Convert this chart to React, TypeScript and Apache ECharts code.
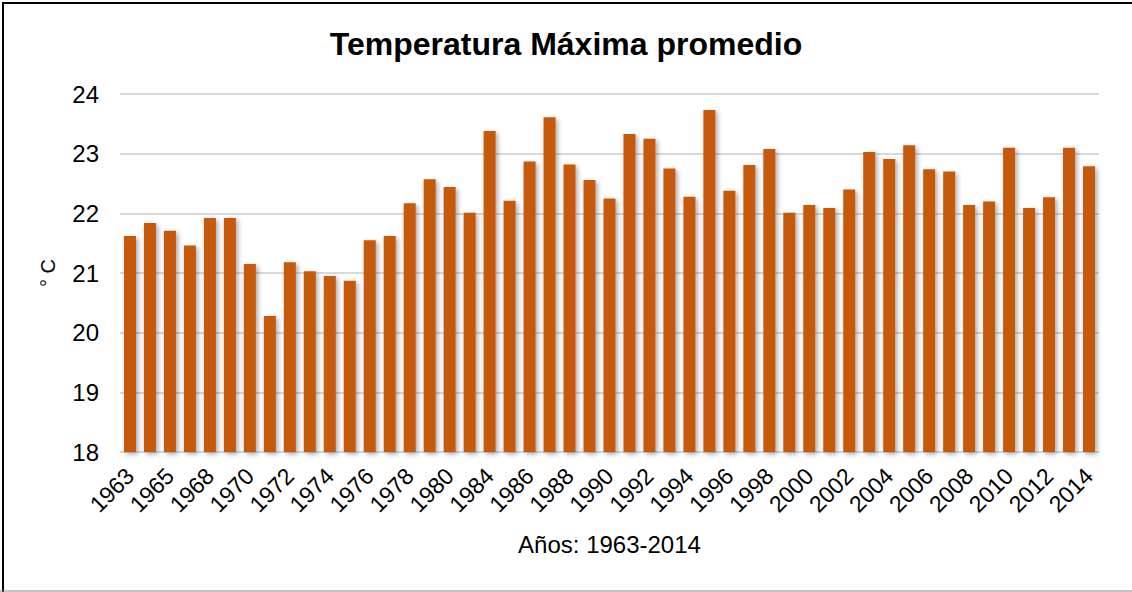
import React, { useEffect, useRef } from "react";
import * as echarts from "echarts";

const years: string[] = [
  "1963", "1964", "1965", "1966", "1968", "1969", "1970", "1971", "1972", "1973",
  "1974", "1975", "1976", "1977", "1978", "1979", "1980", "1982", "1984", "1985",
  "1986", "1987", "1988", "1989", "1990", "1991", "1992", "1993", "1994", "1995",
  "1996", "1997", "1998", "1999", "2000", "2001", "2002", "2003", "2004", "2005",
  "2006", "2007", "2008", "2009", "2010", "2011", "2012", "2013", "2014",
];

const tmax: number[] = [
  21.62, 21.84, 21.71, 21.46, 21.92, 21.92, 21.15, 20.28, 21.18, 21.03,
  20.95, 20.87, 21.55, 21.62, 22.17, 22.57, 22.44, 22.01, 23.38, 22.21,
  22.87, 23.61, 22.82, 22.56, 22.25, 23.33, 23.25, 22.75, 22.28, 23.73,
  22.38, 22.81, 23.08, 22.01, 22.14, 22.09, 22.40, 23.03, 22.91, 23.14,
  22.74, 22.70, 22.14, 22.20, 23.10, 22.09, 22.27, 23.10, 22.79,
];

const titleText = "Temperatura Máxima promedio";
const xName = "Años: 1963-2014";
const yName = "° C";

export default function App() {
  const ref = useRef<HTMLDivElement>(null);
  useEffect(() => {
    if (!ref.current) return;
    const chart = echarts.init(ref.current, undefined, { renderer: "svg" });
    const font = "Liberation Sans, Arial, sans-serif";
    chart.setOption({
      animation: false,
      backgroundColor: "#ffffff",
      textStyle: { fontFamily: font },
      title: {
        text: titleText,
        left: "center",
        top: 23,
        textStyle: { fontFamily: font, fontSize: 32, fontWeight: "bold", color: "#000000" },
      },
      graphic: [
        {
          type: "polyline",
          shape: { points: [[3, 592], [3, 3], [1132, 3]] },
          style: { fill: "none", stroke: "#000000", lineWidth: 2 },
          silent: true,
        },
        {
          type: "line",
          shape: { x1: 0, y1: 591, x2: 1132, y2: 591 },
          style: { stroke: "#8c8c8c", lineWidth: 1 },
          silent: true,
        },
      ],
      grid: { left: 120, right: 33, top: 94, bottom: 140, containLabel: false },
      xAxis: {
        type: "category",
        data: years,
        name: xName,
        nameLocation: "middle",
        nameGap: 80,
        nameTextStyle: { fontFamily: font, fontSize: 24, color: "#000000" },
        axisTick: { show: false },
        axisLine: { show: true, lineStyle: { color: "#d9d9d9", width: 1 } },
        axisLabel: {
          interval: 1,
          rotate: 45,
          fontSize: 23,
          color: "#000000",
          fontFamily: font,
          margin: 20,
        },
      },
      yAxis: {
        type: "value",
        min: 18,
        max: 24,
        interval: 1,
        name: yName,
        nameLocation: "middle",
        nameGap: 62,
        nameRotate: 90,
        nameTextStyle: { fontFamily: font, fontSize: 20, color: "#000000" },
        axisLine: { show: false },
        axisTick: { show: false },
        axisLabel: { fontSize: 24, color: "#000000", fontFamily: font, margin: 21 },
        splitLine: { lineStyle: { color: "#d9d9d9", width: 2 } },
      },
      series: [
        {
          type: "bar",
          data: tmax,
          barWidth: 12,
          itemStyle: {
            color: "#c55a11",
            shadowBlur: 5,
            shadowColor: "rgba(0,0,0,0.35)",
            shadowOffsetX: 2,
            shadowOffsetY: 2,
          },
        },
      ],
    });
    return () => chart.dispose();
  }, []);
  return (
    <div
      ref={ref}
      style={{ position: "fixed", left: 0, top: 0, width: 1132, height: 592 }}
    />
  );
}
